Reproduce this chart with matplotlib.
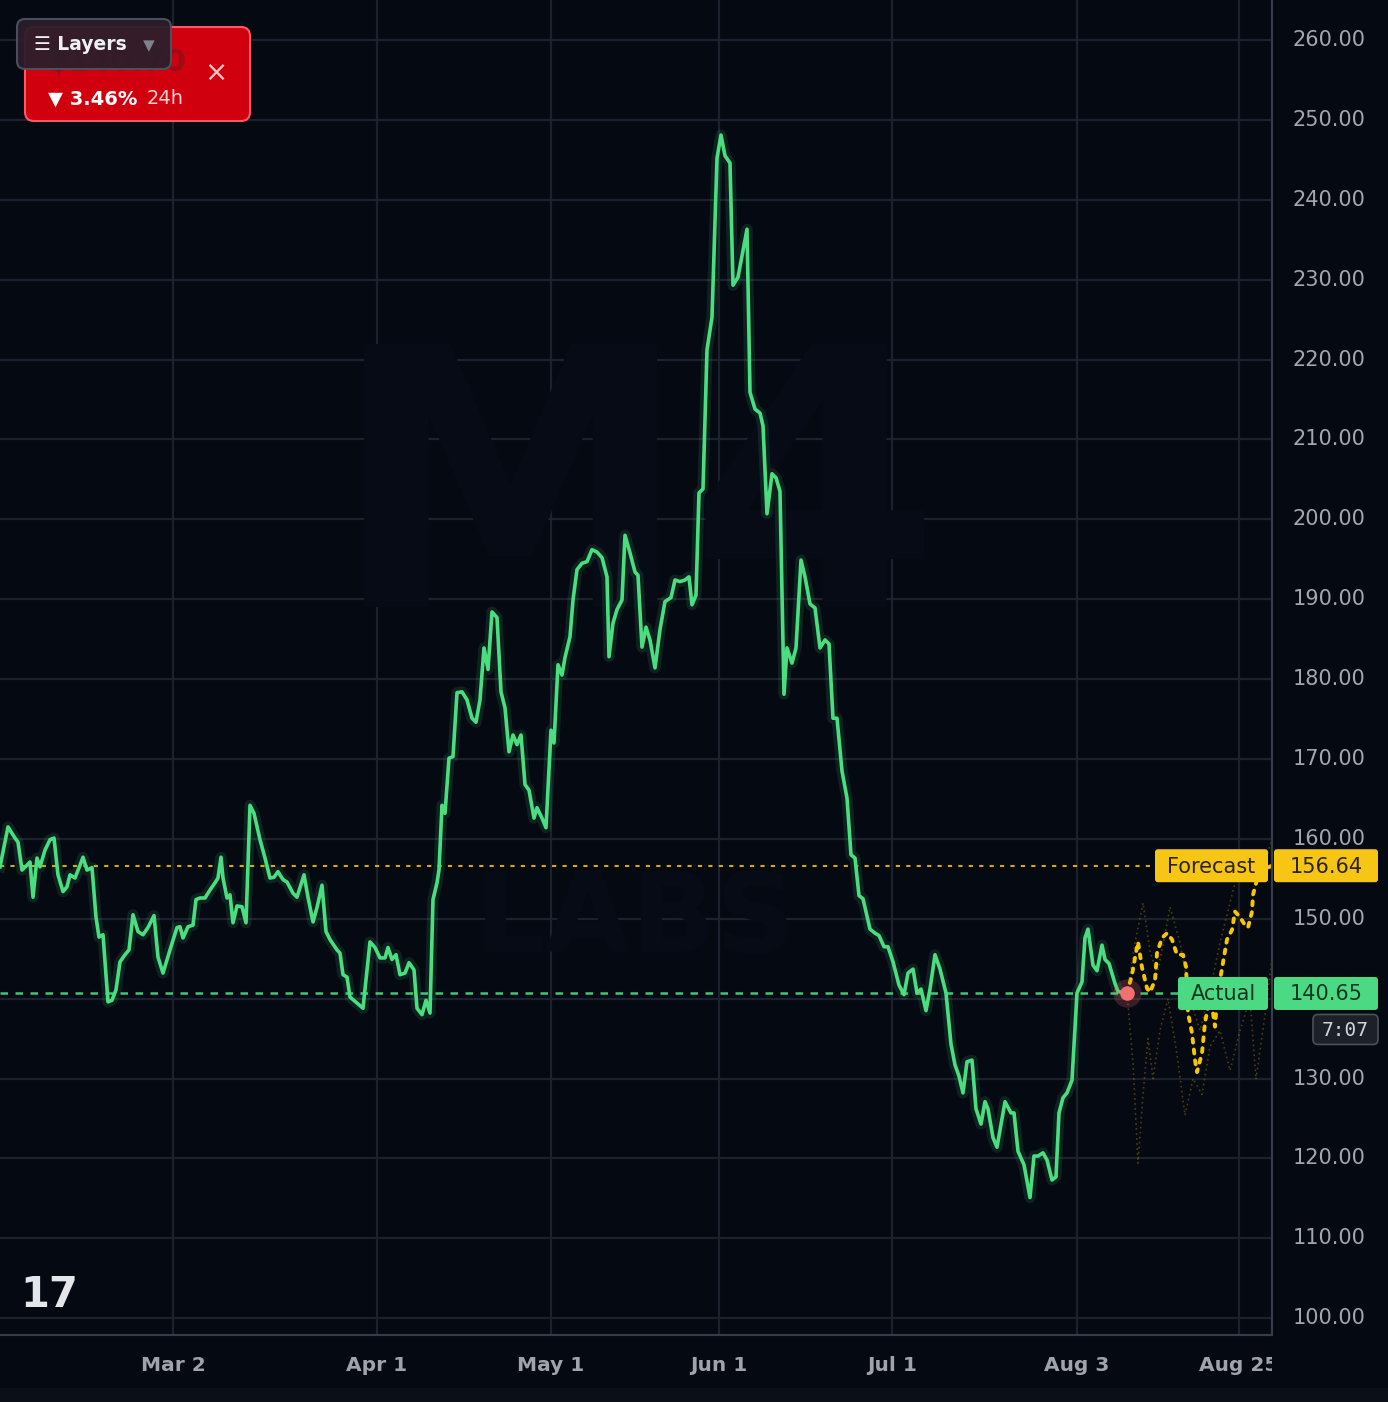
import numpy as np
import matplotlib.pyplot as plt
from matplotlib.patches import FancyBboxPatch, Rectangle
from matplotlib import transforms

# 実績の価格 (t = バー位置)
t_actual = [0, 1.6, 3.0, 3.6, 4.4, 5.4, 6.0, 6.6, 7.4, 8.0, 9.0, 10.0, 10.8, 11.6, 12.6, 13.4,
            14.0, 15.0, 16.0, 16.6, 17.4, 18.4, 19.2, 19.8, 20.6, 21.6, 22.4, 23.2, 24.0, 25.0,
            25.8, 26.6, 27.6, 28.6, 29.6, 30.8, 31.6, 32.6, 34.0, 35.4, 36.0, 36.6, 37.6, 38.6,
            39.2, 40.0, 41.0, 42.0, 43.0, 43.6, 44.2, 44.6, 45.4, 46.0, 46.6, 47.4, 48.4, 49.2,
            50.0, 50.8, 52.0, 53.0, 54.0, 54.8, 55.6, 56.6, 57.4, 58.6, 59.4, 60.8, 61.6, 62.6,
            63.4, 64.4, 65.2, 66.0, 67.4, 68.0, 68.6, 69.4, 70.0, 72.6, 74.0, 75.0, 76.0, 77.0,
            77.6, 78.4, 79.2, 80.0, 81.0, 81.8, 82.8, 83.4, 84.4, 85.2, 86.0, 86.6, 87.4, 87.8,
            88.4, 89.0, 89.8, 90.6, 91.4, 92.4, 93.4, 94.4, 95.2, 96.0, 96.8, 97.6, 98.4, 99.4,
            100.2, 101.0, 101.8, 102.6, 103.4, 104.2, 105.0, 105.8, 106.8, 107.4, 108.4, 109.2,
            110.2, 110.8, 111.6, 112.4, 113.0, 114.0, 114.6, 115.4, 116.4, 117.4, 118.4, 119.4,
            120.4, 121.4, 121.8, 122.6, 123.4, 124.4, 125.0, 126.0, 127.0, 127.6, 128.4, 129.2,
            130.0, 131.0, 132.0, 133.0, 134.2, 135.0, 136.0, 137.0, 137.8, 138.4, 139.2, 139.8,
            140.6, 141.4, 142.4, 143.4, 144.2, 145.0, 146.0, 146.6, 147.6, 149.4, 150.0, 151.0,
            152.0, 152.6, 153.4, 154.4, 155.2, 156.0, 156.8, 157.4, 158.4, 159.2, 160.2, 161.0,
            162.0, 163.0, 164.0, 165.0, 165.8, 166.6, 167.4, 168.4, 169.4, 170.2, 171.0, 171.8,
            172.6, 174.0, 175.0, 175.8, 176.8, 177.6, 178.6, 179.8, 180.8, 181.6, 182.6, 183.4,
            184.2, 185.2, 186.0, 187.0, 188.0, 189.2, 190.2, 191.0, 191.8, 192.6, 193.4, 194.4,
            195.2, 196.2, 197.0, 197.6, 198.6, 199.4, 201.0, 202.2, 202.8, 203.6, 204.8, 206.0,
            206.8, 207.6, 208.6, 209.4, 210.4, 211.2, 211.8, 212.6, 213.4, 214.4, 215.4, 216.4,
            217.0, 217.6, 218.6, 219.4, 220.4, 221.0, 221.8, 223.0, 223.6, 225.4]
price_actual = [156.5, 161.5, 160.1, 159.6, 156.1, 156.7, 157.1, 152.7, 157.6, 156.5, 158.6, 159.9,
                160.1, 155.5, 153.4, 154.0, 155.5, 155.1, 156.7, 157.7, 156.1, 156.4, 150.2, 147.7,
                148.0, 139.6, 139.8, 141.1, 144.6, 145.5, 146.1, 150.5, 148.4, 148.0, 148.9, 150.4,
                145.2, 143.2, 146.1, 148.9, 149.0, 147.6, 149.0, 149.2, 152.4, 152.6, 152.6, 153.6,
                154.5, 155.1, 157.7, 155.1, 152.6, 153.0, 149.5, 151.6, 151.5, 149.5, 164.2, 163.2,
                159.9, 157.6, 155.1, 155.2, 155.9, 154.9, 154.6, 153.2, 152.7, 155.5, 152.7, 149.6,
                151.4, 154.2, 148.4, 147.4, 146.1, 145.7, 143.0, 142.7, 140.2, 138.8, 147.1, 146.4,
                145.1, 145.1, 146.4, 144.9, 145.5, 143.0, 143.2, 144.5, 143.6, 138.8, 138.0, 139.8,
                138.2, 152.4, 154.5, 156.1, 164.2, 163.2, 170.1, 170.3, 178.3, 178.4, 177.4, 175.1,
                174.6, 177.4, 183.9, 181.2, 188.4, 187.7, 178.4, 176.4, 170.9, 173.0, 171.8, 173.0,
                166.8, 166.1, 162.6, 163.9, 162.6, 161.4, 173.6, 172.0, 181.8, 180.5, 182.7, 185.3,
                189.9, 193.7, 194.5, 194.7, 196.2, 195.9, 195.2, 192.8, 182.8, 187.0, 188.7, 189.9,
                198.0, 195.8, 193.4, 193.0, 184.0, 186.5, 184.9, 181.4, 186.2, 189.7, 190.2, 192.4,
                192.2, 192.4, 192.8, 189.3, 190.5, 203.3, 203.8, 221.2, 225.3, 245.2, 248.1, 245.5,
                244.6, 229.3, 230.3, 236.3, 215.9, 213.8, 213.3, 211.7, 200.7, 205.7, 205.2, 203.5,
                178.1, 183.9, 182.0, 183.9, 194.9, 192.8, 189.4, 188.9, 183.9, 184.9, 184.4, 175.1,
                175.1, 168.5, 165.1, 158.0, 157.6, 152.9, 152.5, 148.7, 148.2, 147.9, 146.5, 146.5,
                144.6, 141.7, 140.5, 143.2, 143.7, 140.7, 141.2, 138.5, 141.2, 145.5, 143.7, 140.7,
                134.3, 131.7, 130.3, 128.2, 132.1, 132.3, 126.2, 124.3, 127.1, 126.2, 122.6, 121.4,
                127.1, 125.7, 125.7, 120.9, 119.2, 115.1, 120.3, 120.3, 120.7, 119.8, 117.3, 117.7,
                125.7, 127.6, 128.2, 129.8, 140.7, 142.1, 147.6, 148.7, 144.2, 143.5, 146.7, 144.9,
                144.4, 141.9, 140.9, 140.65]

# 予測 (破線) と予測レンジ (薄い点線)
t_fc = [225.4, 226.4, 227.0, 227.6, 228.4, 229.4, 230.0, 231.0, 231.4, 232.4, 233.4, 234.4,
        235.4, 236.6, 237.2, 237.6, 238.4, 239.0, 239.4, 240.4, 241.0, 241.6, 242.6, 243.0,
        243.4, 244.0, 244.6, 245.4, 246.4, 247.0, 248.0, 249.0, 249.6, 250.4, 250.6, 251.4,
        252.4, 254.4]
price_fc = [140.65, 143.0, 145.1, 147.1, 143.9, 141.3, 140.8, 142.3, 145.7, 147.6, 148.2, 147.4,
            145.5, 145.5, 144.0, 138.2, 135.7, 132.3, 130.8, 133.2, 137.0, 139.0, 138.2, 136.5,
            139.8, 142.3, 144.5, 147.4, 148.6, 150.9, 150.2, 149.2, 148.9, 150.9, 153.0, 154.9,
            156.1, 156.64]
t_up = [225.4, 227.0, 228.6, 230.0, 231.4, 233.0, 234.0, 236.0, 238.0, 240.0, 242.0, 244.0,
        246.0, 248.0, 250.0, 252.0, 254.4]
price_up = [140.65, 147.0, 152.0, 146.0, 143.0, 148.0, 151.5, 147.0, 140.0, 136.0, 141.0, 147.0,
            152.0, 157.0, 158.0, 155.0, 160.0]
t_lo = [225.4, 226.6, 227.6, 228.6, 229.6, 230.6, 232.0, 233.6, 235.4, 237.0, 238.6, 240.4,
        242.0, 244.0, 246.0, 248.0, 250.0, 251.2, 253.0, 254.4]
price_lo = [140.65, 132.0, 119.4, 128.0, 135.0, 130.0, 136.0, 140.0, 133.0, 125.4, 130.0, 128.0,
            134.0, 136.0, 131.0, 136.0, 140.0, 129.9, 138.0, 145.0]

forecast_value = 156.64
actual_value = 140.65
change_pct = 3.46
countdown = '7:07'

tick_pos = [34.6, 75.4, 110.2, 143.8, 178.4, 215.4, 247.8]
tick_labels = ['Mar 2', 'Apr 1', 'May 1', 'Jun 1', 'Jul 1', 'Aug 3', 'Aug 25']
price_ticks = np.arange(100, 261, 10)

# 色
BG = '#050912'
GRID = '#1b212d'
GREEN = '#4ade80'
YELLOW = '#f7c514'
LABEL = '#a3a6af'

W, H = 1388, 1402
PLOT_W, PLOT_H = 1272, 1335

fig = plt.figure(figsize=(W / 100, H / 100), dpi=100, facecolor=BG)

# メインのチャート
ax = fig.add_axes([0, (H - PLOT_H) / H, PLOT_W / W, PLOT_H / H], facecolor=BG)
ax.set_xlim(0, 254.4)
ax.set_ylim(97.9, 265.0)
for name, sp in ax.spines.items():
    sp.set_visible(name in ('bottom', 'right'))
    sp.set_color('#363c4a')
    sp.set_linewidth(1.5)
ax.set_xticks(tick_pos)
ax.set_xticklabels(tick_labels, fontweight='bold')
ax.set_yticks(price_ticks)
ax.set_yticklabels([])
ax.tick_params(axis='x', length=0, pad=15, labelsize=14.5, labelcolor='#a0a3ac')
ax.tick_params(axis='y', length=0)
ax.grid(True, color=GRID, lw=1.6)
ax.set_axisbelow(True)

# 薄いウォーターマーク
ax.text(0.5, 0.62, 'M4', transform=ax.transAxes, ha='center', va='center',
        fontsize=260, fontweight='bold', color='#070b15', zorder=1)
ax.text(0.5, 0.31, 'LABS', transform=ax.transAxes, ha='center', va='center',
        fontsize=80, fontweight='bold', color='#070b15', zorder=1)

# 水平の点線
ax.axhline(forecast_value, color='#d9aa00', lw=1.5, ls=(0, (2, 3)), zorder=2)
ax.axhline(actual_value, color='#3cc878', lw=1.8, ls=(0, (3, 3)), zorder=2)

# 実績ライン
ax.plot(t_actual, price_actual, color=GREEN, lw=8, alpha=0.12, solid_joinstyle='round', zorder=3)
ax.plot(t_actual, price_actual, color=GREEN, lw=2.6, solid_joinstyle='round', zorder=4)

# 予測
ax.plot(t_up, price_up, color='#c9a400', lw=1.2, alpha=0.35, ls=(0, (1, 2)), zorder=3)
ax.plot(t_lo, price_lo, color='#c9a400', lw=1.2, alpha=0.35, ls=(0, (1, 2)), zorder=3)
ax.plot(t_fc, price_fc, color='#f7c600', lw=2.8, ls=(0, (1.0, 1.8)),
        dash_capstyle='round', zorder=5)

ax.scatter([t_actual[-1]], [price_actual[-1]], s=420, color='#f06a6a', alpha=0.22, lw=0, zorder=6)
ax.scatter([t_actual[-1]], [price_actual[-1]], s=110, color='#f46f6f', lw=0, zorder=7)

# 右側の価格軸
rp = fig.add_axes([PLOT_W / W, 0, 1 - PLOT_W / W, 1], facecolor=BG)
rp.set_zorder(2)
rp.set_xticks([])
rp.set_yticks([])
for sp in rp.spines.values():
    sp.set_visible(False)
tx = transforms.blended_transform_factory(rp.transAxes, ax.transData)
for v in price_ticks:
    if abs(v - actual_value) < 3:
        continue  # 「Actual」のタグに隠れる
    rp.text(0.18, v, f'{v:.2f}', transform=tx, ha='left', va='center',
            fontsize=15, color=LABEL)

# 上に重ねるレイヤー (ピクセル座標)
ov = fig.add_axes([0, 0, 1, 1])
ov.set_zorder(10)
ov.set_xlim(0, W)
ov.set_ylim(H, 0)
ov.set_axis_off()

ylo, yhi = ax.get_ylim()


def ypx(v):
    return (yhi - v) / (yhi - ylo) * PLOT_H


# 右縁の線
ov.plot([PLOT_W, PLOT_W], [0, PLOT_H], color='#363c4a', lw=1.5)


def tag(x0, w, v, text, fc, tc, fs=15):
    y = ypx(v)
    ov.add_patch(FancyBboxPatch((x0, y - 16.5), w, 33, boxstyle='round,pad=0,rounding_size=3',
                                fc=fc, ec='none'))
    ov.text(x0 + w / 2, y + 1, text, ha='center', va='center', fontsize=fs, color=tc)


tag(1155, 113, forecast_value, 'Forecast', YELLOW, '#2a2410')
tag(1274, 104, forecast_value, f'{forecast_value:.2f}', YELLOW, '#2a2410')
tag(1178, 90, actual_value, 'Actual', '#4cd983', '#143522')
tag(1274, 104, actual_value, f'{actual_value:.2f}', '#4cd983', '#143522')

# カウントダウン
yc = ypx(actual_value) + 36
ov.add_patch(FancyBboxPatch((1313, yc - 15), 65, 30, boxstyle='round,pad=0,rounding_size=5',
                            fc='#1c2029', ec='#4b505c', lw=1.2))
ov.text(1345.5, yc + 1, countdown, ha='center', va='center', fontsize=14,
        family='DejaVu Sans Mono', color='#d1d4dc')

# 左上のウィジェット (価格は「Layers」ボタンの下にほぼ隠れる)
ov.add_patch(FancyBboxPatch((25, 27), 225, 94, boxstyle='round,pad=0,rounding_size=9',
                            fc='#d0000e', ec='#ff5763', lw=1.5, zorder=1))
ov.text(48, 62, '$140.70', ha='left', va='center', fontsize=22, fontweight='bold',
        color='#9e0a16', zorder=2)
ov.text(48, 99, f'▼ {change_pct:.2f}%', ha='left', va='center', fontsize=14,
        fontweight='bold', color='white', zorder=2)
ov.text(147, 99, '24h', ha='left', va='center', fontsize=14, color='#ffd2d2', zorder=2)
ov.text(216, 73, '×', ha='center', va='center', fontsize=20, color='#ffc6c6', zorder=2)
ov.add_patch(FancyBboxPatch((17, 19), 154, 50, boxstyle='round,pad=0,rounding_size=8',
                            fc='#2a1e2a', ec='#4d5363', lw=1.5, alpha=0.94, zorder=4))
ov.text(34, 45, '☰ Layers', ha='left', va='center', fontsize=13.5, fontweight='bold',
        color='#eef0f4', zorder=5)
ov.text(149, 46, '▼', ha='center', va='center', fontsize=11, color='#7c828e', zorder=5)

# TradingView のロゴ
ov.text(20, 1295, '17', ha='left', va='center', fontsize=30, fontweight='bold',
        color='#e4e6ea')

# 下端の帯
ov.add_patch(Rectangle((0, 1388), W, 14, fc='#0b0f18', ec='none'))

fig.savefig('out.png', dpi=100, facecolor=BG)
